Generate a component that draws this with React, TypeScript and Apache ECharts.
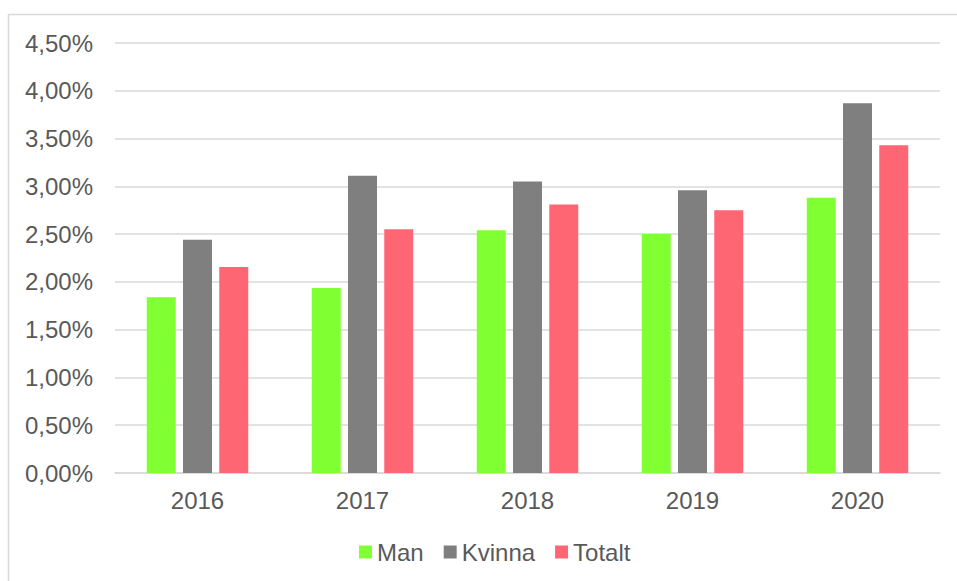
import React, { useEffect, useRef } from "react";
import * as echarts from "echarts";

const categories = ["2016", "2017", "2018", "2019", "2020"];
const manValues = [1.84, 1.935, 2.54, 2.5, 2.88];
const kvinnaValues = [2.44, 3.11, 3.05, 2.96, 3.87];
const totaltValues = [2.155, 2.55, 2.81, 2.75, 3.43];
const seriesNames = ["Man", "Kvinna", "Totalt"];
const seriesColors = ["#80ff33", "#7f7f7f", "#ff6673"];

const FONT = "'Liberation Sans', Arial, sans-serif";
const TEXT = "#595959";

export default function App() {
  const ref = useRef<HTMLDivElement>(null);
  useEffect(() => {
    if (!ref.current) return;
    const chart = echarts.init(ref.current, null, { renderer: "svg" });
    const data = [manValues, kvinnaValues, totaltValues];
    chart.setOption({
      animation: false,
      backgroundColor: "#ffffff",
      textStyle: { fontFamily: FONT },
      graphic: [
        {
          type: "rect",
          shape: { x: 8.5, y: 14.5, width: 1000, height: 700 },
          style: { fill: "none", stroke: "#d9d9d9", lineWidth: 1.5 },
          silent: true,
          z: -10,
        },
      ],
      grid: { left: 115, right: 17, top: 43, bottom: 108, containLabel: false },
      legend: {
        left: 354,
        top: 535,
        itemWidth: 13,
        itemHeight: 13,
        itemGap: 20,
        icon: "rect",
        textStyle: { color: TEXT, fontSize: 24, fontFamily: FONT },
        data: seriesNames,
      },
      xAxis: {
        type: "category",
        data: categories,
        axisLine: { lineStyle: { color: "#d9d9d9", width: 1.5 } },
        axisTick: { show: false },
        axisLabel: { color: TEXT, fontSize: 24, fontFamily: FONT, margin: 15 },
      },
      yAxis: {
        type: "value",
        min: 0,
        max: 4.5,
        interval: 0.5,
        axisLine: { show: false },
        axisTick: { show: false },
        splitLine: { lineStyle: { color: "#d9d9d9", width: 1.5 } },
        axisLabel: {
          color: TEXT,
          fontSize: 24,
          fontFamily: FONT,
          margin: 22,
          formatter: (v: number) => v.toFixed(2).replace(".", ",") + "%",
        },
      },
      series: seriesNames.map((name, i) => ({
        name,
        type: "bar",
        data: data[i],
        barWidth: 29,
        barGap: "25%",
        itemStyle: { color: seriesColors[i] },
      })),
    });
    return () => chart.dispose();
  }, []);
  return (
    <div
      ref={ref}
      style={{ position: "absolute", left: 0, top: 0, width: 957, height: 581 }}
    />
  );
}
